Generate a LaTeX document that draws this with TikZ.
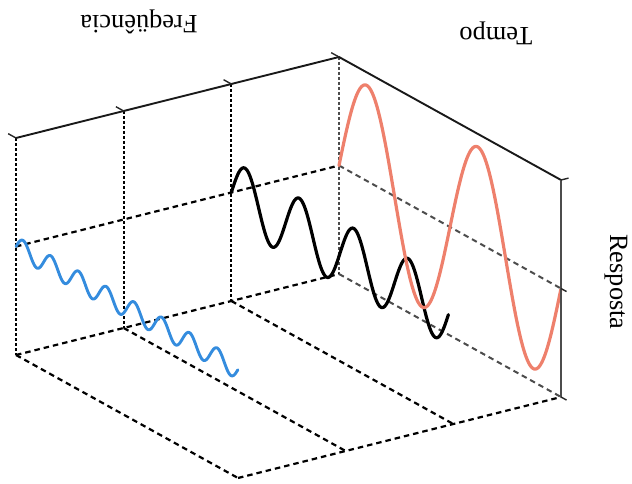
\documentclass[tikz,border=0pt]{standalone}
\usepackage{fontspec}
\setmainfont{Liberation Serif}
\usepackage{xcolor}
\usepackage{tikz}
\definecolor{waveRed}{RGB}{238,128,108}
\definecolor{waveBlue}{RGB}{52,140,222}

\begin{document}
\begin{tikzpicture}[
    x={(107.67bp,27bp)},
    y={(0bp,-217bp)},
    z={(222bp,-123bp)},
    font=\fontsize{26.5}{30}\selectfont,
    axis/.style={
        line width=1.9bp,
        black!90
    },
    tick/.style={
        line width=1.4bp,
        black!85
    },
    grid/.style={
        dash pattern=on 5.5bp off 4bp,
        line width=2.2bp
    },
    backgrid/.style={
        dash pattern=on 5.5bp off 4bp,
        line width=2bp,
        black!70
    },
    riser/.style={
        dash pattern=on 3bp off 2bp,
        line width=2bp
    },
    wave/.style={
        line width=3.2bp,
        line join=round,
        line cap=round
    }
]

\useasboundingbox (-16bp,138bp) rectangle (616bp,-346bp);

\foreach \i in {0,...,3}
    \coordinate (top\i) at (\i,0,0);

\coordinate (tEnd) at (3,0,1);
\coordinate (tMid) at (3,0.5,1);
\coordinate (tLow) at (3,1,1);

% grade
\foreach \i in {0,...,2}
    \draw[riser] (top\i) -- (\i,1,0);
\draw[riser, black!70, line width=1.4bp] (top3) -- (3,1,0);

\draw[grid] (0,0.5,0) -- (3,0.5,0);
\draw[grid] (0,1,0) -- (3,1,0);
\draw[grid] (0,1,1) -- (tLow);
\foreach \i in {0,...,2}
    \draw[grid] (\i,1,0) -- (\i,1,1);
\draw[backgrid] (3,1,0) -- (tLow);
\draw[backgrid] (3,0.5,0) -- (tMid);

% respostas
\draw[wave, waveBlue, line width=2.9bp] plot[domain=0:1, samples=240, smooth]
    (0, {0.5-0.046*sin(8*360*\x)}, \x);
\draw[wave, black] plot[domain=0:0.98, samples=200, smooth]
    (2, {0.5-0.147*sin(360*\x/0.245)}, \x);
\draw[wave, waveRed] plot[domain=0:1, samples=200, smooth]
    (3, {0.5-0.44*sin(2*360*\x)}, \x);

% eixos
\draw[axis] (top0) -- (top3) -- (tEnd);
\draw[axis, black!70, line width=1.6bp] (tEnd) -- (tLow);

\foreach \i in {0,...,3}
    \draw[tick] (top\i) -- ++(0,0,-0.035);
\draw[tick] (tEnd) -- ++(0.07,0,0);
\draw[tick] (tMid) -- ++(0,0,0.025);
\draw[tick] (tLow) -- ++(0,0,0.025);

\node[rotate=180] (freq) at (123bp,116bp) {Freqüência};
\node[rotate=180] (tempo) at (480bp,105bp) {Tempo};
\node[rotate=-90] (resp) at (600bp,-144bp) {Resposta};

\end{tikzpicture}
\end{document}
